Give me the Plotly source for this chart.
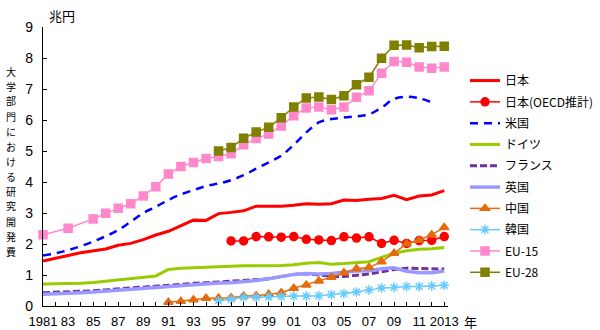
import plotly.graph_objects as go

years = list(range(1981, 2014))

japan = [1.45, 1.55, 1.63, 1.72, 1.78, 1.84, 1.96, 2.02, 2.14, 2.29, 2.41, 2.58, 2.77, 2.76,
         2.98, 3.02, 3.07, 3.22, 3.22, 3.22, 3.25, 3.30, 3.28, 3.30, 3.42, 3.40, 3.44, 3.47,
         3.57, 3.43, 3.55, 3.58, 3.72]

japan_oecd_years = list(range(1996, 2014))
japan_oecd = [2.10, 2.10, 2.24, 2.23, 2.22, 2.24, 2.15, 2.13, 2.11, 2.23, 2.19, 2.23, 2.02,
              2.12, 2.02, 2.11, 2.12, 2.24]

us_years = list(range(1981, 2013))
us = [1.63, 1.70, 1.80, 1.93, 2.08, 2.25, 2.45, 2.72, 3.00, 3.20, 3.42, 3.60, 3.74, 3.87,
      3.95, 4.06, 4.22, 4.43, 4.63, 4.85, 5.20, 5.60, 5.92, 6.03, 6.08, 6.12, 6.18, 6.40,
      6.68, 6.75, 6.70, 6.57]

germany = [0.71, 0.71, 0.71, 0.73, 0.76, 0.80, 0.84, 0.87, 0.91, 0.97, 1.18, 1.22, 1.23,
           1.25, 1.27, 1.29, 1.30, 1.30, 1.30, 1.31, 1.33, 1.38, 1.40, 1.35, 1.37, 1.40,
           1.43, 1.57, 1.70, 1.78, 1.83, 1.85, 1.89]

france = [0.43, 0.44, 0.45, 0.47, 0.49, 0.52, 0.55, 0.59, 0.62, 0.66, 0.69, 0.71, 0.73,
          0.75, 0.77, 0.79, 0.82, 0.85, 0.88, 0.94, 1.02, 1.04, 1.00, 0.96, 0.95, 0.98,
          1.03, 1.10, 1.18, 1.22, 1.21, 1.19, 1.19]

uk = [0.38, 0.39, 0.41, 0.43, 0.45, 0.48, 0.51, 0.54, 0.56, 0.59, 0.62, 0.65, 0.68, 0.72,
      0.74, 0.75, 0.78, 0.82, 0.88, 0.95, 1.02, 1.05, 1.03, 1.05, 1.10, 1.13, 1.14, 1.20,
      1.23, 1.12, 1.07, 1.07, 1.13]

china_years = list(range(1991, 2014))
china = [0.12, 0.15, 0.20, 0.25, 0.26, 0.27, 0.32, 0.33, 0.38, 0.43, 0.57, 0.68, 0.81, 0.93,
         1.07, 1.20, 1.24, 1.43, 1.70, 2.01, 2.12, 2.30, 2.53]

korea_years = list(range(1995, 2014))
korea = [0.17, 0.22, 0.28, 0.28, 0.30, 0.31, 0.32, 0.32, 0.33, 0.37, 0.40, 0.45, 0.52, 0.58,
         0.60, 0.63, 0.63, 0.65, 0.67]

eu15_years = [1981, 1983] + list(range(1985, 2014))
eu15 = [2.30, 2.51, 2.81, 2.99, 3.15, 3.30, 3.55, 3.85, 4.26, 4.50, 4.63, 4.76, 4.82, 4.91,
        5.20, 5.40, 5.55, 5.81, 6.14, 6.39, 6.42, 6.33, 6.42, 6.73, 6.94, 7.51, 7.89, 7.86,
        7.71, 7.67, 7.71]

eu28_years = list(range(1995, 2014))
eu28 = [5.00, 5.11, 5.41, 5.61, 5.77, 6.07, 6.42, 6.71, 6.74, 6.66, 6.78, 7.14, 7.38, 7.99,
        8.41, 8.42, 8.33, 8.37, 8.38]

tick_years = list(range(1981, 2014, 2))
tick_text = ["1981"] + [str(y)[2:] for y in tick_years[1:-1]] + ["2013"]

y_title = "大学部門における研究開発費"

FONT = "Liberation Sans, Arial, sans-serif"
JFONT = "Noto Sans CJK JP, sans-serif"

fig = go.Figure()

def add(name, x, y, color, width, dash="solid", symbol=None, msize=8, shape="linear"):
    mode = "lines+markers" if symbol else "lines"
    fig.add_trace(go.Scatter(
        x=x, y=y, name=name, mode=mode, legendgroup=name,
        line=dict(color=color, width=width, dash=dash, shape=shape),
        marker=dict(symbol=symbol, size=msize, color=color,
                    line=dict(color=color, width=1.5)) if symbol else None,
        cliponaxis=False,
    ))

add("日本", years, japan, "#FF0000", 3)
add("日本(OECD推計)", japan_oecd_years, japan_oecd, "#FF0000", 1.5, symbol="circle", msize=8)
add("米国", us_years, us, "#0000FF", 2.5, dash="8px,6px", shape="spline")
add("ドイツ", years, germany, "#99CC00", 3)
add("フランス", years, france, "#7030A0", 3, dash="7px,3px")
add("英国", years, uk, "#9999FF", 3.5)
add("中国", china_years, china, "#E46C0A", 1.5, symbol="triangle-up", msize=8)
add("韓国", korea_years, korea, "#66CCFF", 1.5, symbol="asterisk-open", msize=8)
add("EU-15", eu15_years, eu15, "#FF88CC", 1.5, symbol="square", msize=8)
add("EU-28", eu28_years, eu28, "#808000", 1.5, symbol="square", msize=8)

PLOT_L, PLOT_W, PLOT_T, PLOT_H = 43, 405, 27, 279

fig.update_layout(
    width=600, height=330,
    margin=dict(l=PLOT_L, r=600 - PLOT_L - PLOT_W, t=PLOT_T, b=330 - PLOT_T - PLOT_H,
                autoexpand=False),
    paper_bgcolor="white", plot_bgcolor="white",
    font=dict(family=FONT, size=13, color="black"),
    showlegend=True,
    legend=dict(x=(465 - PLOT_L) / PLOT_W, xanchor="left", y=0.86, yanchor="top",
                font=dict(family=JFONT, size=12, color="black"),
                tracegroupgap=2.3, bgcolor="rgba(0,0,0,0)"),
    xaxis=dict(range=[1981, 2013.3], showgrid=False, zeroline=False,
               showline=True, linecolor="black", linewidth=1.3,
               ticks="inside", ticklen=4, tickcolor="black",
               tickvals=tick_years, ticktext=tick_text, tickangle=0,
               ticklabelstandoff=3,
               minor=dict(ticks="inside", ticklen=4, dtick=1, tick0=1981, tickcolor="black"),
               tickfont=dict(family=FONT, size=13)),
    yaxis=dict(range=[0, 9], dtick=1, showgrid=False, zeroline=False,
               showline=True, linecolor="black", linewidth=1.3,
               ticks="inside", ticklen=4, tickcolor="black",
               ticklabelstandoff=6,
               tickfont=dict(family=FONT, size=14)),
)

# vertical (upright) axis title, one character per row
top_px, step = 71, 15.0
for i, ch in enumerate(y_title):
    ypx = top_px + i * step
    fig.add_annotation(text=ch, xref="paper", yref="paper",
                       x=-PLOT_L / PLOT_W, xshift=11, xanchor="center",
                       y=(PLOT_T + PLOT_H - ypx) / PLOT_H, yanchor="middle",
                       showarrow=False, font=dict(family=JFONT, size=10, color="black"))

fig.add_annotation(text="兆円", xref="paper", yref="paper", x=0, xshift=4, xanchor="left",
                   y=1, yshift=12, yanchor="middle", showarrow=False,
                   font=dict(family=JFONT, size=13, color="black"))
fig.add_annotation(text="年", xref="paper", yref="paper", x=1, xshift=22, xanchor="center",
                   y=0, yshift=-15, yanchor="middle", showarrow=False,
                   font=dict(family=JFONT, size=13, color="black"))

fig.write_html("out.html")
